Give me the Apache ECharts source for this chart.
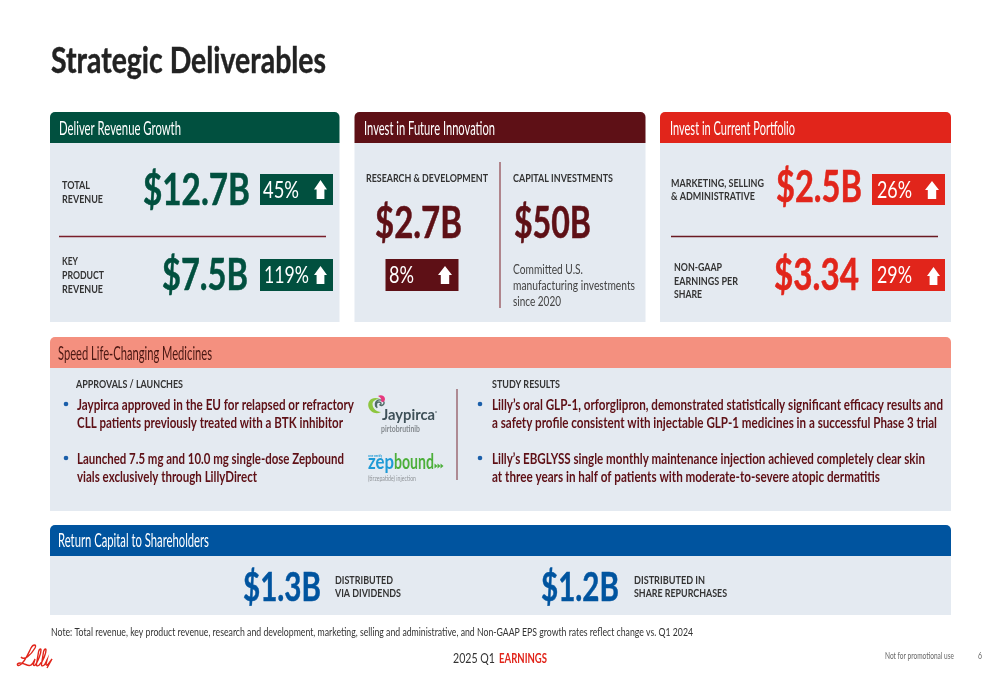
<!DOCTYPE html>
<html><head><meta charset="utf-8">
<style>html,body{margin:0;padding:0;background:#fff}#c{width:1000px;height:685px}</style>
<script src="https://cdn.jsdelivr.net/npm/echarts@6/dist/echarts.min.js"></script>
</head><body><div id="c"></div>
<script>
const titleText = "Strategic Deliverables";
const panelTitles = ["Deliver Revenue Growth","Invest in Future Innovation","Invest in Current Portfolio"];
const sectionTitles = ["Speed Life-Changing Medicines","Return Capital to Shareholders"];
const revenueValues = ["$12.7B","$7.5B"];
const revenueGrowth = ["45%","119%"];
const innovationValues = ["$2.7B","$50B"];
const innovationGrowth = ["8%"];
const portfolioValues = ["$2.5B","$3.34"];
const portfolioGrowth = ["26%","29%"];
const capitalValues = ["$1.3B","$1.2B"];
const approvals = ["Jaypirca approved in the EU for relapsed or refractory","CLL patients previously treated with a BTK inhibitor","Launched 7.5 mg and 10.0 mg single-dose Zepbound","vials exclusively through LillyDirect"];
const studies = ["Lilly\u2019s oral GLP-1, orforglipron, demonstrated statistically significant efficacy results and","a safety profile consistent with injectable GLP-1 medicines in a successful Phase 3 trial","Lilly\u2019s EBGLYSS single monthly maintenance injection achieved completely clear skin","at three years in half of patients with moderate-to-severe atopic dermatitis"];
const noteText = "Note: Total revenue, key product revenue, research and development, marketing, selling and administrative, and Non-GAAP EPS growth rates reflect change vs. Q1 2024";

const GREEN="#01503F",MAROON="#5E1016",RED="#E1251B",SALMON="#F4907F",BLUE="#00549F",BODY="#E4EAF1",INK="#333333";
const SMALL=11.4,BODYTXT=14.2,BIG=43,HEAD=18.5;
const ctx=document.createElement('canvas').getContext('2d');
const g=[];
let pathId=0;
function rect(x,y,w,h,fill,r){g.push({type:'rect',shape:{x,y,width:w,height:h,r:r||0},style:{fill}});}
function T(text,x0,x1,base,size,fill,weight,family,italic){
  const font=(italic?'italic ':'')+(weight||'normal')+' '+size+'px '+(family||'Lato');
  ctx.font=font;ctx.textBaseline='middle';
  const m=ctx.measureText(text);const bm=ctx.measureText('H');
  const sx=(x1-x0)/m.width;
  const style={text,x:0,y:0,font,fill,align:'left',verticalAlign:'middle',lineHeight:size*1.2};
  if(weight==='bold'&&size>=30){style.stroke=fill;style.lineWidth=size*0.012;}
  g.push({type:'text',x:x0,y:base-bm.actualBoundingBoxDescent,scaleX:sx,scaleY:1,style});
}
function line(x1,y1,x2,y2,stroke,w){g.push({type:'line',shape:{x1,y1,x2,y2},style:{stroke,lineWidth:w}});}
function arrow(x0,x1,y0,y1){
  const c=(x0+x1)/2,sw=(x1-x0)*0.3,hy=y0+(y1-y0)*0.5;
  g.push({type:'polygon',shape:{points:[[c,y0],[x1,hy],[c+sw,hy],[c+sw,y1],[c-sw,y1],[c-sw,hy],[x0,hy]]},style:{fill:'#fff'}});
}
function logoPath(d,style){
  const name='logoShape'+(pathId++);
  echarts.graphic.registerShape(name,echarts.graphic.extendPath(d,{}));
  g.push({type:name,style});
}
function panel(x,w,y,hh,bh,color){
  rect(x,y+hh,w,bh,BODY);
  rect(x,y,w,hh,color,[5,5,0,0]);
}
function badge(x,y,h,color,text,tx0,tx1,base,ax0,ax1,ay0,ay1){
  rect(x,y,73,h,color);
  T(text,tx0,tx1,base,24,'#fff','normal');
  arrow(ax0,ax1,ay0,ay1);
}
function dot(cx,cy){g.push({type:'circle',shape:{cx,cy,r:2.3},style:{fill:'#1B5FAA'}});}

// Title
T(titleText,51,326,72.5,36,'#222222','bold');

// Panels
panel(50,289.5,112,31,179,GREEN);
panel(354.5,291,112,31,179,MAROON);
panel(660,291,112,31,179,RED);
panel(50,901,337,31,143,SALMON);
panel(50,901,525,31,59,BLUE);
T(panelTitles[0],59,181,135,HEAD,'#fff');
T(panelTitles[1],364,495,135,HEAD,'#fff');
T(panelTitles[2],670,795,135,HEAD,'#fff');
T(sectionTitles[0],58,212,360,HEAD,'#4A1712');
T(sectionTitles[1],58,209,547,HEAD,'#fff');

// Revenue
T("TOTAL",62,90,189,SMALL,INK,'bold');
T("REVENUE",62,103,203,SMALL,INK,'bold');
T("KEY",62,78,265,SMALL,INK,'bold');
T("PRODUCT",62,104,279,SMALL,INK,'bold');
T("REVENUE",62,103,293,SMALL,INK,'bold');
T(revenueValues[0],143,250,205,BIG,GREEN,'bold');
T(revenueValues[1],162,248,290,BIG,GREEN,'bold');
badge(260,174,31,GREEN,revenueGrowth[0],263,299,198,314,327,180,199);
badge(260,259,32,GREEN,revenueGrowth[1],264,309,283,314,327,266,284);
line(59,236.5,326,236.5,'#7A1F2B',1.3);

// Innovation
T("RESEARCH & DEVELOPMENT",366,488,182,SMALL,INK,'bold');
T("CAPITAL INVESTMENTS",513,613,182,SMALL,INK,'bold');
T(innovationValues[0],375,462,238,BIG,MAROON,'bold');
T(innovationValues[1],514,591,238,BIG,MAROON,'bold');
badge(385.5,259,32,MAROON,innovationGrowth[0],389,414,283,438,452,266,284);
line(500,162,500,308,'#9A5A62',1.4);
T("Committed U.S.",513,583,274,12.6,'#444444');
T("manufacturing investments",513,635,290,12.6,'#444444');
T("since 2020",513,561,306,12.6,'#444444');

// Portfolio
T("MARKETING, SELLING",671,764,187,SMALL,INK,'bold');
T("& ADMINISTRATIVE",671,755,200,SMALL,INK,'bold');
T(portfolioValues[0],776,862,202,BIG,RED,'bold');
badge(872,174,31,RED,portfolioGrowth[0],877,912,198,925,939,181,199);
line(671,236.5,938,236.5,'#6A1A22',1.3);
T("NON-GAAP",674,722,271,SMALL,INK,'bold');
T("EARNINGS PER",674,738,285,SMALL,INK,'bold');
T("SHARE",674,702,298,SMALL,INK,'bold');
T(portfolioValues[1],774,859,290,BIG,RED,'bold');
badge(872,259,32,RED,portfolioGrowth[1],877,912,283,927,940,267,285);

// Speed
T("APPROVALS / LAUNCHES",76,183,388,SMALL,INK,'bold');
T("STUDY RESULTS",492,560,388,SMALL,INK,'bold');
dot(66,404);dot(66,458);dot(480,404);dot(480,458);
T(approvals[0],77,354,410,BODYTXT,MAROON,'bold');
T(approvals[1],77,343,428,BODYTXT,MAROON,'bold');
T(approvals[2],77,344,464,BODYTXT,MAROON,'bold');
T(approvals[3],77,257,482,BODYTXT,MAROON,'bold');
T(studies[0],492,943,410,BODYTXT,MAROON,'bold');
T(studies[1],492,937,428,BODYTXT,MAROON,'bold');
T(studies[2],492,925,464,BODYTXT,MAROON,'bold');
T(studies[3],492,880,482,BODYTXT,MAROON,'bold');
line(457,389,457,480,'#8A4A55',1.2);

// Product logos
logoPath('M380 399 C372 396 367 401 368.5 407 C370 412 376 415 381 412 C376 412 372.5 408 372.5 404 C372.5 401 376 399 380 399 Z',{fill:'#8DC63F'});
logoPath('M376 407 C374 402 378 398 383 401 C386 403 382 407 380 405 C382 404 381 402 379 402 C376 402 376 405 377 408',{fill:'none',stroke:'#4F6B66',lineWidth:1.4});
logoPath('M378 396 C381 394 385 396 385 399 C385 402 382 403 381 401 C382 399 380 397 378 396 Z',{fill:'#E6397E'});
T("Jaypirca",382,435,419.5,14.5,'#3E5058','bold');
g.push({type:'circle',shape:{cx:436,cy:412,r:0.8},style:{fill:'#41535A'}});
T("pirtobrutinib",381,420,432,9.2,'#858A8F','bold');
T("once weekly",368,382,457,4.5,'#1E9AD6','bold');
T("zep",368,394,469,20.5,'#1E9AD6','bold');
T("bound",394,434,469,20.5,'#4CAF3A','bold');
[0,3,6].forEach(d=>g.push({type:'polygon',shape:{points:[[434.5+d,463.5],[437.5+d,466],[434.5+d,468.5]]},style:{fill:'#4CAF3A'}}));
T("(tirzepatide) injection",368,416,481,8.4,'#8F9397');

// Return capital
T(capitalValues[0],243,321,601,41,BLUE,'bold');
T("DISTRIBUTED",335,393,584,SMALL,INK,'bold');
T("VIA DIVIDENDS",335,401,597,SMALL,INK,'bold');
T(capitalValues[1],541,619,601,41,BLUE,'bold');
T("DISTRIBUTED IN",634,705,584,SMALL,INK,'bold');
T("SHARE REPURCHASES",634,727,597,SMALL,INK,'bold');

// Footer
T(noteText,51,693,636,11,'#333333');
logoPath('M21 657 C24 661 31 655 35 648 C37 644 33 644 31 648 C28 654 25 662 20 665 C17 667 16 663 20 663 C25 663 28 667 31 665 C33 664 34 661 35 659 L33.5 664 C33 666 35 666 36 664 C38 661 41 654 41 650 C41 648 39 649 38.5 652 L36.5 664 C36 667 39 666 40 664 C43 661 46 654 46 650 C46 648 44 649 43.5 652 L41.5 664 C41 667 44 666 45 664 L47 660 L46 664 C46 666 48 665 49 663 L52 659 L47 668',{fill:'none',stroke:'#E1251B',lineWidth:1.4});
T("2025 Q1",453,495,663,14,'#333333');
T("EARNINGS",499,547,663,13,'#E1251B','bold');
T("Not for promotional use",885,954,659,8.5,'#666666');
T("6",978,982,659,8.5,'#666666');

const chart=echarts.init(document.getElementById('c'),null,{renderer:'canvas'});
chart.setOption({animation:false,backgroundColor:'#fff',graphic:{elements:g}});
</script></body></html>
